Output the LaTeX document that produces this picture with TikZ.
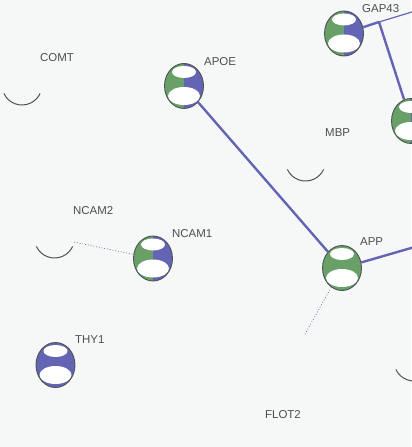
\documentclass[tikz,border=0pt]{standalone}
\usepackage{fontspec}
\setmainfont{Liberation Sans}
\usetikzlibrary{shapes.geometric,calc}
\definecolor{bgcol}{RGB}{246,248,248}
\definecolor{bluecol}{RGB}{100,100,180}
\definecolor{greencol}{RGB}{104,160,104}
\definecolor{rimcol}{RGB}{78,82,82}
\definecolor{namecol}{RGB}{78,78,78}
\begin{document}
\begin{tikzpicture}
    [x=1bp, y=-1bp,
    ball/.style 2 args={ellipse, draw=rimcol, line width=0.9pt, fill=white,
      minimum width=39bp, minimum height=45bp, inner sep=0pt,
      path picture={
        \fill[#1] (path picture bounding box.south west) rectangle (path picture bounding box.north);
        \fill[#2] (path picture bounding box.south) rectangle (path picture bounding box.north east);
        \fill[white] ([yshift=-10bp]path picture bounding box.center) ellipse [x radius=16bp, y radius=9bp];
        \fill[white] ([yshift=14bp]path picture bounding box.center) ellipse [x radius=12bp, y radius=6bp];
      }},
    ghost/.style={circle, minimum size=40bp, inner sep=0pt},
    rim/.style={draw=rimcol, line width=1pt},
    tag/.style={anchor=west, text=namecol, inner sep=0pt, font=\fontsize{11.5}{13}\selectfont},
    sure/.style={draw=bluecol, line width=2.4pt},
    weak/.style={draw=bluecol, line width=1.2pt},
    faint/.style={draw=bluecol!60!gray, line width=0.8pt, dotted}]
    \fill[bgcol] (0,0) rectangle (411,447);
    \useasboundingbox (0,0) rectangle (411,447);

    \node[ball={greencol}{bluecol}] (gap43) at (344,33.5) {};
    \node[ball={greencol}{bluecol}] (apoe) at (184,86) {};
    \node[ball={greencol}{bluecol}] (ncam1) at (153,258.5) {};
    \node[ball={greencol}{greencol}] (app) at (342,268) {};
    \node[ball={greencol}{bluecol}] (edgeball) at (411,121) {};
    \node[ball={bluecol}{bluecol}] (thy1) at (55.5,365) {};
    \node[ghost] (comt) at (22,85) {};
    \node[ghost] (mbp) at (305.5,161) {};
    \node[ghost] (ncam2) at (54.5,238) {};
    \node[ghost] (cornerball) at (414,361) {};
    \coordinate (fork) at (379,22);
    \coordinate (northout) at (425,8);
    \coordinate (eastout) at (425,244);
    \coordinate (fade) at (304,336);

    \foreach \ring in {comt,mbp,ncam2,cornerball}
      \draw[rim] ($(\ring)+(205:20bp)$) arc[start angle=205, end angle=335, radius=20bp];

    \draw[sure] (apoe) -- (app);
    \draw[sure] (app) -- (eastout);
    \draw[sure] (gap43) -- (fork);
    \draw[weak] (fork) -- (northout);
    \draw[sure] (fork) -- (edgeball);
    \draw[faint] (ncam2) -- (ncam1);
    \draw[faint] (app) -- (fade);

    \node[tag] (gap43-t) at (362,9) {GAP43};
    \node[tag] (comt-t) at (40,58) {COMT};
    \node[tag] (apoe-t) at (204,61.5) {APOE};
    \node[tag] (mbp-t) at (325,133) {MBP};
    \node[tag] (ncam2-t) at (73,210.5) {NCAM2};
    \node[tag] (ncam1-t) at (172,233.5) {NCAM1};
    \node[tag] (app-t) at (360,242) {APP};
    \node[tag] (thy1-t) at (75,340) {THY1};
    \node[tag] (flot2-t) at (265,414.5) {FLOT2};
  \end{tikzpicture}
\end{document}
